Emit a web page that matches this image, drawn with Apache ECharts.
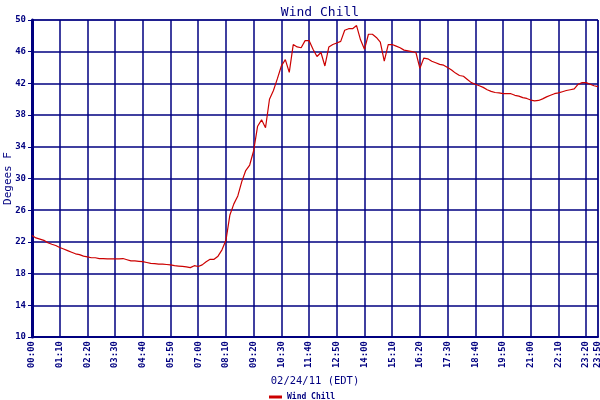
<!DOCTYPE html>
<html>
<head>
<meta charset="utf-8">
<script src="https://cdn.jsdelivr.net/npm/echarts@6/dist/echarts.min.js"></script>
<style>html,body{margin:0;padding:0;background:#fff;}#c{width:600px;height:400px;}</style>
</head>
<body>
<div id="c"></div>
<script>
// 10-minute timestamps 00:00 .. 23:50
const times = [];
for (let h = 0; h < 24; h++) for (let m = 0; m < 60; m += 10)
  times.push(String(h).padStart(2, '0') + ':' + String(m).padStart(2, '0'));

const windChill = [
  22.8, 22.5, 22.35, 22.2, 21.9, 21.7, 21.55, 21.3, 21.1, 20.9,
  20.7, 20.5, 20.4, 20.2, 20.1, 20.0, 20.0, 19.9, 19.9, 19.85,
  19.85, 19.85, 19.85, 19.9, 19.75, 19.6, 19.6, 19.55, 19.5, 19.4,
  19.3, 19.25, 19.2, 19.2, 19.15, 19.1, 19.0, 18.95, 18.9, 18.85,
  18.75, 19.0, 18.9, 19.1, 19.5, 19.8, 19.8, 20.2, 21.0, 22.2,
  25.4, 26.8, 27.8, 29.6, 31.0, 31.7, 33.5, 36.6, 37.4, 36.4,
  40.0, 41.1, 42.6, 44.2, 45.0, 43.4, 46.9, 46.6, 46.5, 47.4,
  47.4, 46.3, 45.4, 45.9, 44.2, 46.6, 46.9, 47.1, 47.3, 48.7,
  48.9, 48.9, 49.3, 47.5, 46.3, 48.2, 48.2, 47.8, 47.2, 44.8,
  46.9, 46.9, 46.7, 46.5, 46.2, 46.1, 46.0, 45.9, 43.9, 45.2,
  45.1, 44.8, 44.6, 44.4, 44.3, 44.0, 43.7, 43.3, 43.0, 42.9,
  42.5, 42.1, 41.9, 41.7, 41.5, 41.2, 41.0, 40.85, 40.8, 40.7,
  40.7, 40.7, 40.5, 40.4, 40.2, 40.1, 39.9, 39.8, 39.85, 40.05,
  40.3, 40.5, 40.7, 40.8, 40.95, 41.1, 41.2, 41.3, 41.9, 42.1,
  42.1, 41.9, 41.7, 41.6
];

const yMin = 10, yMax = 50, yStep = 4;
const labelEvery = 7;

const navy = '#000080';
const mono = 'DejaVu Sans Mono';
const showIdx = (i) => i % labelEvery === 0 || i === times.length - 1;

const chart = echarts.init(document.getElementById('c'), null, {renderer: 'canvas'});
chart.setOption({
  backgroundColor: '#ffffff',
  animation: false,
  title: {
    text: 'Wind Chill',
    left: 315, top: 1, textAlign: 'center',
    textStyle: {fontFamily: mono, fontSize: 13, fontWeight: 'normal', color: navy}
  },
  legend: {
    data: ['Wind Chill'],
    left: 264, top: 388,
    itemWidth: 13, itemHeight: 3, itemGap: 3,
    icon: 'rect',
    textStyle: {fontFamily: mono, fontSize: 8, fontWeight: 'bold', color: navy}
  },
  grid: {left: 32, right: 2, top: 20, bottom: 63, containLabel: false,
    outerBoundsMode: 'none',
    show: true, borderColor: navy, borderWidth: 1},
  xAxis: {
    type: 'category',
    data: times,
    boundaryGap: false,
    name: '02/24/11 (EDT)',
    nameLocation: 'middle',
    nameGap: 39,
    nameMoveOverlap: false,
    nameTextStyle: {fontFamily: mono, fontSize: 10.5, color: navy},
    axisLine: {lineStyle: {color: navy, width: 2}},
    axisTick: {show: false},
    axisLabel: {
      interval: (i) => showIdx(i),
      rotate: 90, margin: 4,
      fontFamily: mono, fontSize: 9, fontWeight: 'bold', color: navy
    },
    splitLine: {show: true, interval: (i) => showIdx(i), lineStyle: {color: navy, width: 1.5}}
  },
  yAxis: {
    type: 'value',
    min: yMin, max: yMax, interval: yStep,
    name: 'Degees F',
    nameLocation: 'middle',
    nameGap: 18,
    nameMoveOverlap: false,
    nameTextStyle: {fontFamily: mono, fontSize: 11, color: navy},
    axisLine: {show: true, lineStyle: {color: navy, width: 3}},
    axisTick: {show: true, length: 4, lineStyle: {color: navy}},
    axisLabel: {margin: 6, fontFamily: mono, fontSize: 9, fontWeight: 'bold', color: navy},
    splitLine: {show: true, lineStyle: {color: navy, width: 1.5}}
  },
  series: [{
    name: 'Wind Chill',
    type: 'line',
    data: windChill,
    symbol: 'none',
    lineStyle: {color: '#cc0000', width: 1.2},
    itemStyle: {color: '#cc0000'}
  }]
});
</script>
</body>
</html>
